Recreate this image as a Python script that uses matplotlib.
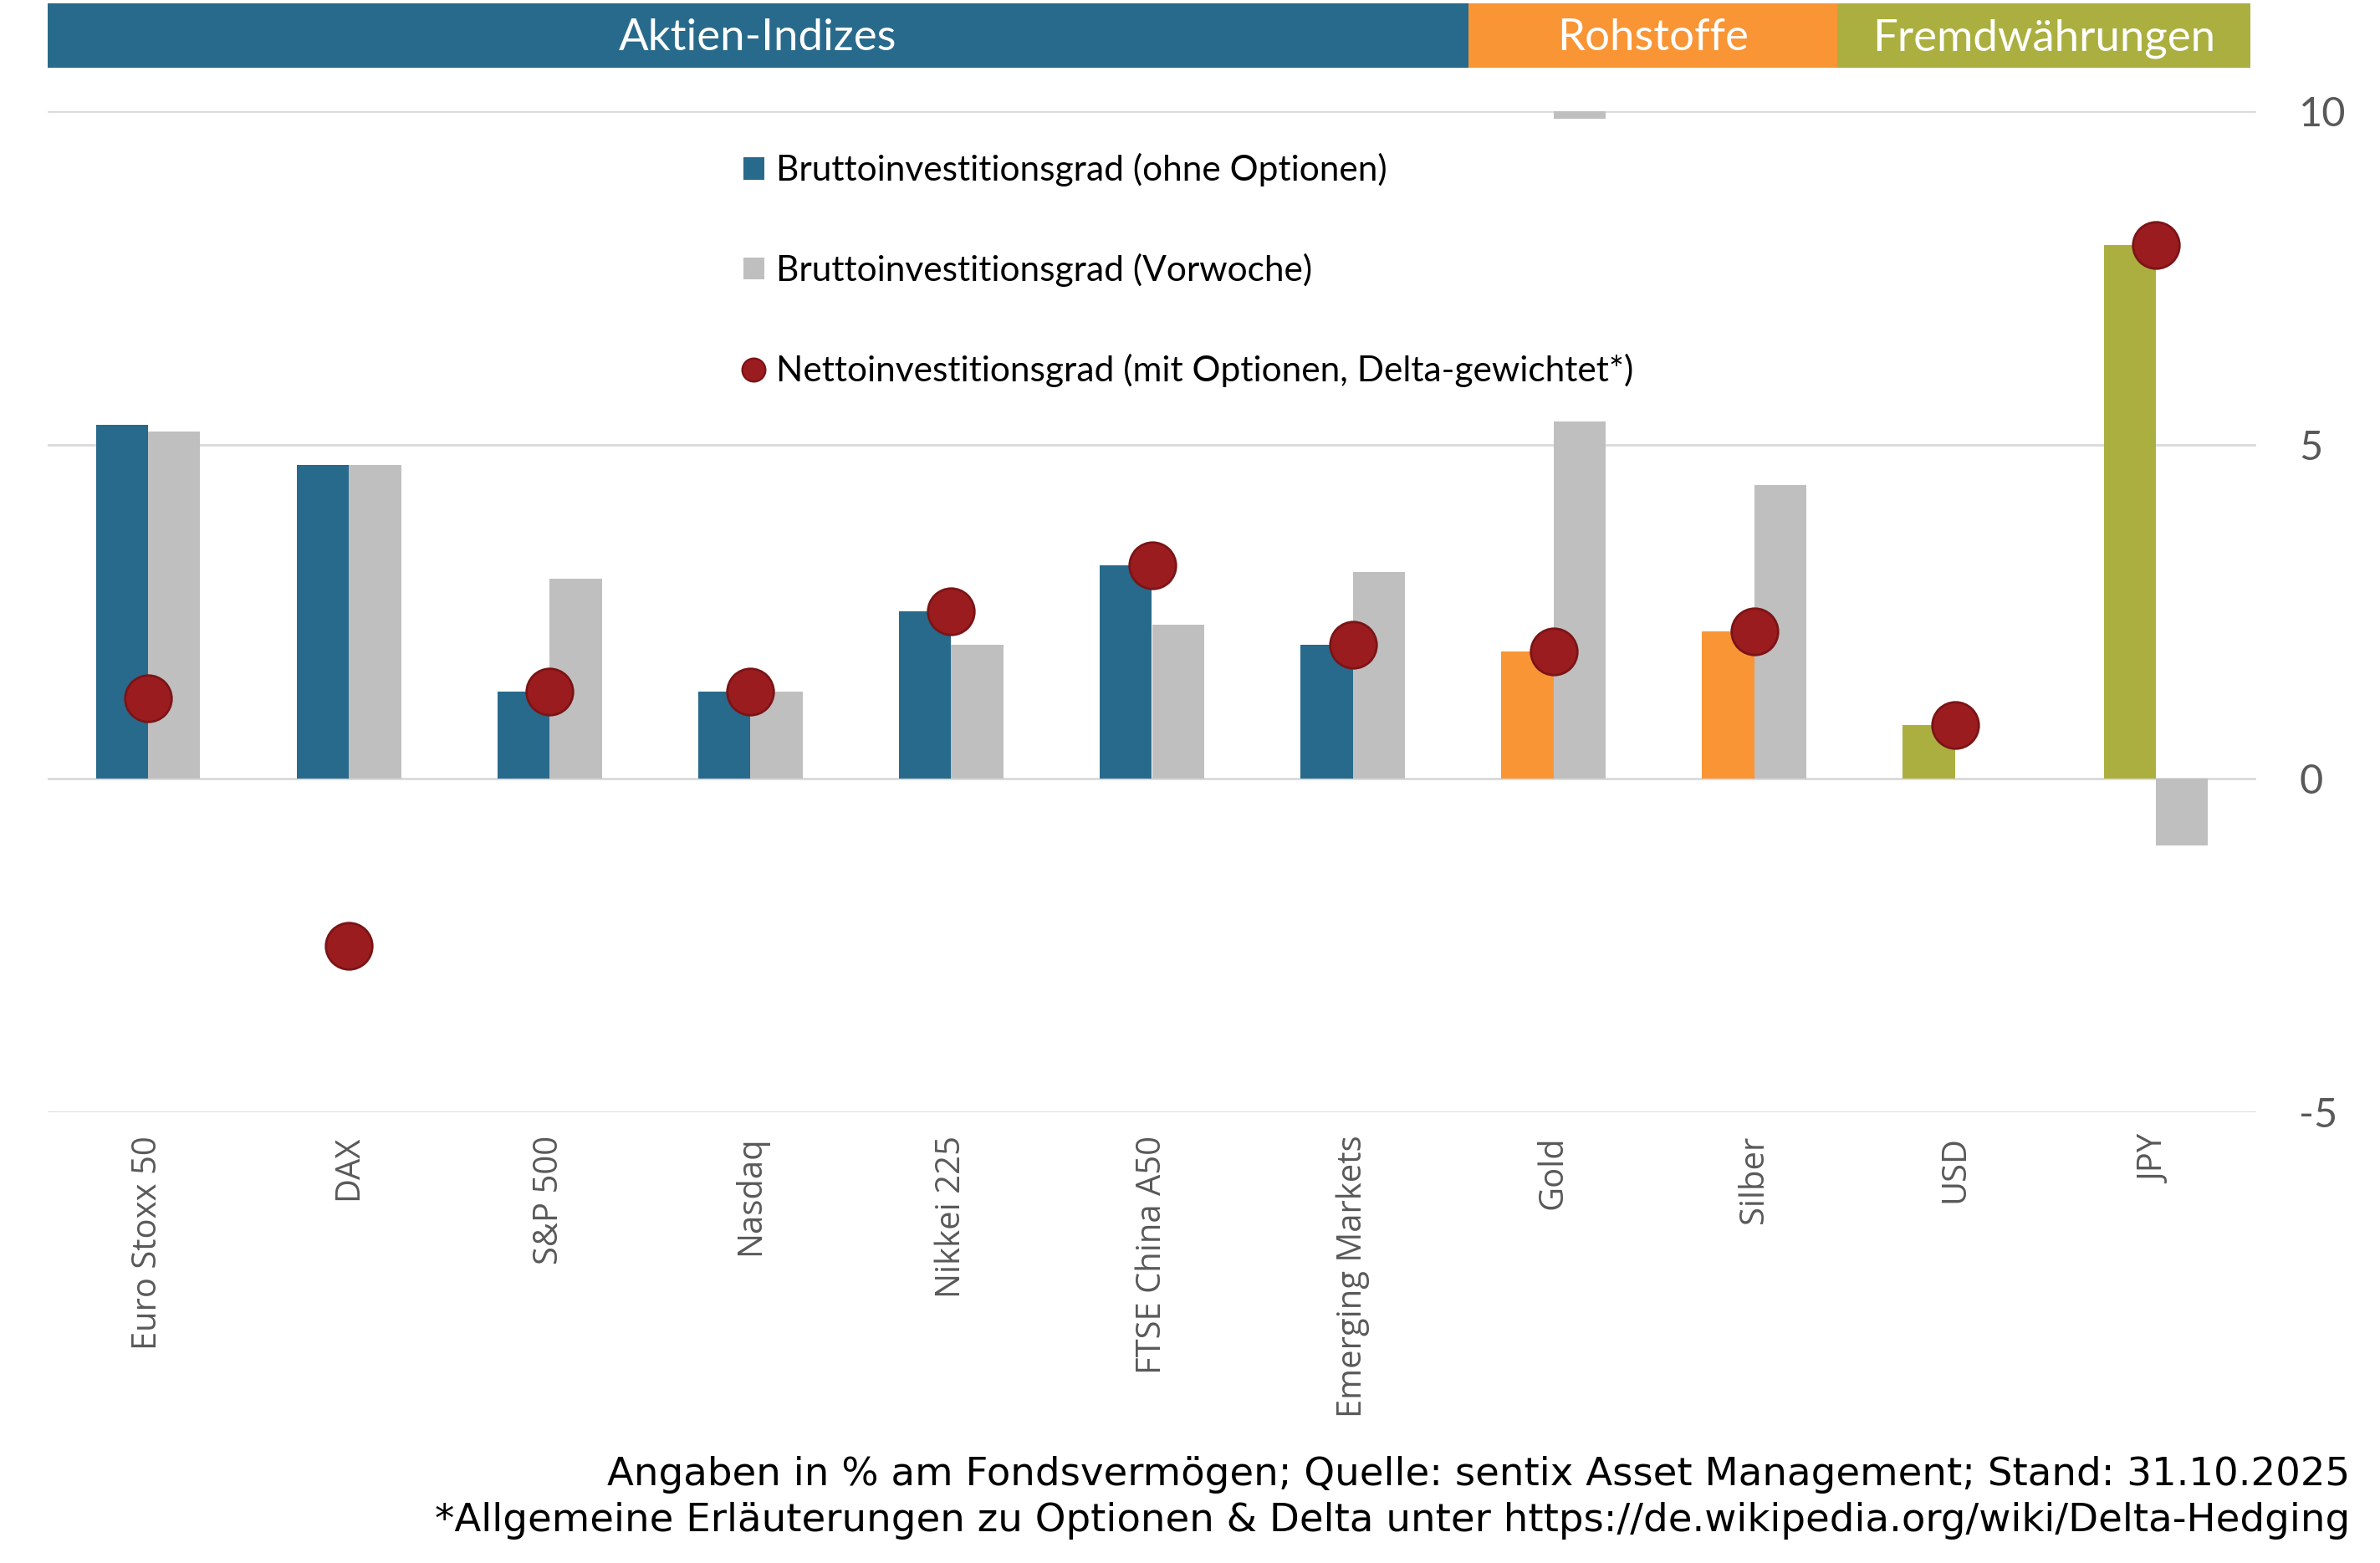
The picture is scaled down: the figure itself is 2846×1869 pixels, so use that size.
import matplotlib
matplotlib.use("Agg")
import matplotlib.pyplot as plt
from matplotlib.patches import Patch, Rectangle
from matplotlib.lines import Line2D
import numpy as np

plt.rcParams['axes.unicode_minus'] = False

# ---------------- data ----------------
categories = ['Euro Stoxx 50', 'DAX', 'S&P 500', 'Nasdaq', 'Nikkei 225',
              'FTSE China A50', 'Emerging Markets', 'Gold', 'Silber', 'USD', 'JPY']
groups = ['Aktien-Indizes'] * 7 + ['Rohstoffe'] * 2 + ['Fremdwährungen'] * 2
brutto = [5.3, 4.7, 1.3, 1.3, 2.5, 3.2, 2.0, 1.9, 2.2, 0.8, 8.0]
vorwoche = [5.2, 4.7, 3.0, 1.3, 2.0, 2.3, 3.1, 10.3, 4.4, 0.0, -1.0]
netto = [1.2, -2.5, 1.3, 1.3, 2.5, 3.2, 2.0, 1.9, 2.2, 0.8, 8.0]
yticks = [-5, 0, 5, 10]
group_names = ['Aktien-Indizes', 'Rohstoffe', 'Fremdwährungen']
legend_labels = ['Bruttoinvestitionsgrad (ohne Optionen)',
                 'Bruttoinvestitionsgrad (Vorwoche)',
                 'Nettoinvestitionsgrad (mit Optionen, Delta-gewichtet*)']
note1 = 'Angaben in % am Fondsvermögen; Quelle: sentix Asset Management; Stand: 31.10.2025'
note2 = '*Allgemeine Erläuterungen zu Optionen & Delta unter https://de.wikipedia.org/wiki/Delta-Hedging'

# ---------------- style ----------------
group_colors = {'Aktien-Indizes': '#286A8B', 'Rohstoffe': '#F99535', 'Fremdwährungen': '#ABAF3F'}
gray = '#BFBFBF'
grid_c = '#D9D9D9'
dot_c = '#9B1C1F'
dot_edge = '#7B1416'
tick_c = '#595959'
CAL = ['Lato', 'DejaVu Sans']

W, H, DPI = 2846, 1869, 200
fig = plt.figure(figsize=(W / DPI, H / DPI), dpi=DPI)

def fx(px):
    return px / W

def fy(py):
    return 1 - py / H

ax = fig.add_axes([fx(57), fy(1330), fx(2698) - fx(57), fy(133) - fy(1330)])
x = np.arange(len(categories))
bw = 0.26

cur_colors = [group_colors[g] for g in groups]
ax.bar(x - bw / 2, brutto, width=bw, color=cur_colors, zorder=2, linewidth=0)
ax.bar(x + bw / 2, vorwoche, width=bw, color=gray, zorder=2, linewidth=0)
ax.scatter(x, netto, s=400, color=dot_c, edgecolor=dot_edge, linewidth=1.0, zorder=4)

ax.set_xlim(-0.5, len(categories) - 0.5)
ax.set_ylim(-5, 10)
ax.set_yticks(yticks)
ax.yaxis.grid(True, color=grid_c, linewidth=1.0, zorder=0)
ax.set_axisbelow(True)
ax.yaxis.tick_right()
ax.tick_params(axis='y', length=0, pad=18.5, labelcolor=tick_c, labelsize=17.5)
for lab in ax.get_yticklabels():
    lab.set_family(CAL)
    lab.set_horizontalalignment('left')
ax.set_xticks(x)
ax.set_xticklabels(categories, rotation=90, family=['Open Sans', 'DejaVu Sans'],
                   fontsize=14.4, color=tick_c)
ax.tick_params(axis='x', length=0, pad=10)
for s in ax.spines.values():
    s.set_visible(False)

# legend
handles = [Patch(facecolor=group_colors['Aktien-Indizes'], edgecolor='none'),
           Patch(facecolor=gray, edgecolor='none'),
           Line2D([], [], linestyle='none', marker='o', markersize=10,
                  markerfacecolor=dot_c, markeredgecolor=dot_edge, markeredgewidth=0.8)]
leg = ax.legend(handles, legend_labels, loc='center left',
                bbox_to_anchor=(fx(848), fy(323)), bbox_transform=fig.transFigure,
                borderaxespad=0, frameon=True, facecolor='white', edgecolor='none',
                framealpha=1, fancybox=False, prop={'family': CAL, 'size': 15.3},
                handlelength=0.59, handleheight=0.59, handletextpad=0.33,
                labelspacing=1.87, borderpad=0.96)
leg.set_zorder(10)

# group banners
bounds = [57, 1756, 2197, 2691]
for i, name in enumerate(group_names):
    x0, x1 = bounds[i], bounds[i + 1]
    fig.patches.append(Rectangle((fx(x0), fy(81)), fx(x1) - fx(x0), fy(4) - fy(81),
                                 transform=fig.transFigure, facecolor=group_colors[name],
                                 edgecolor='none', zorder=0))
    fig.text(fx((x0 + x1) / 2), fy(46), name, ha='center', va='center',
             color='white', fontsize=19, family=CAL)

# notes
fig.text(fx(2810), fy(1776), note1, ha='right', va='baseline', fontsize=16.8,
         family=['DejaVu Sans'], color='black')
fig.text(fx(2810), fy(1831), note2, ha='right', va='baseline', fontsize=16.8,
         family=['DejaVu Sans'], color='black')

fig.savefig('out.png', dpi=DPI, facecolor='white')
